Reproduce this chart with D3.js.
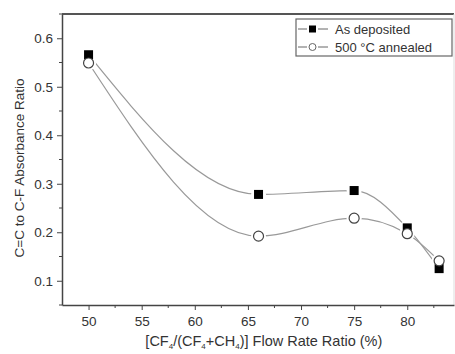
<!DOCTYPE html>
<html>
<head>
<meta charset="utf-8">
<script src="https://cdn.jsdelivr.net/npm/d3@7"></script>
<style>
  body { margin: 0; background: #fff; }
  text { font-family: "Liberation Sans", Arial, sans-serif; fill: #333; }
</style>
</head>
<body>
<div id="chart"></div>
<script>
// data
var flowRatio = [50, 66, 75, 80, 83];
var asDeposited = [0.566, 0.278, 0.286, 0.209, 0.125];
var annealed = [0.549, 0.192, 0.229, 0.197, 0.141];
var seriesNames = ["As deposited", "500 \u00B0C annealed"];
var xTicks = [50, 55, 60, 65, 70, 75, 80];
var yTicks = [0.1, 0.2, 0.3, 0.4, 0.5, 0.6];

var svgWidth = 455, svgHeight = 354;
var margin = { left: 62, top: 14, right: 1, bottom: 49 };
var width = svgWidth - margin.left - margin.right,
    height = svgHeight - margin.top - margin.bottom;

var svg = d3.select("#chart").append("svg")
    .attr("width", svgWidth)
    .attr("height", svgHeight);

var grp = svg.append("g")
    .attr("transform", "translate(" + [margin.left, margin.top] + ")");

var x = d3.scaleLinear().domain([47.5, 84.4]).range([0, width]);
var y = d3.scaleLinear().domain([0.05, 0.65]).range([height, 0]);

// frame: top dark, right faint
grp.append("line").attr("x1", 0).attr("x2", width).attr("y1", 0).attr("y2", 0)
    .style("stroke", "#555").style("stroke-width", 2);
grp.append("line").attr("x1", width).attr("x2", width).attr("y1", 0).attr("y2", height)
    .style("stroke", "#ddd").style("stroke-width", 1);

// minor ticks
var xMinor = d3.range(52.5, 84, 5);
var yMinor = d3.range(0.05, 0.66, 0.1);

var xAxis = grp.append("g").attr("transform", "translate(0," + height + ")")
    .call(d3.axisBottom(x).tickValues(xTicks).tickSize(5).tickPadding(6).tickSizeOuter(0));
var yAxis = grp.append("g")
    .call(d3.axisLeft(y).tickValues(yTicks).tickSize(5).tickPadding(4).tickSizeOuter(0)
        .tickFormat(d3.format(".1f")));

grp.selectAll(".xminor").data(xMinor).enter().append("line")
    .attr("x1", d => x(d)).attr("x2", d => x(d))
    .attr("y1", height).attr("y2", height + 3)
    .style("stroke", "#444");
grp.selectAll(".yminor").data(yMinor).enter().append("line")
    .attr("x1", 0).attr("x2", -3)
    .attr("y1", d => y(d)).attr("y2", d => y(d))
    .style("stroke", "#444");

[xAxis, yAxis].forEach(function (ax) {
    ax.select(".domain").style("stroke", "#444").style("stroke-width", 1.5);
    ax.selectAll(".tick line").style("stroke", "#444");
    ax.selectAll("text").style("font-size", "13.5px").style("fill", "#333")
        .style("font-family", "'Liberation Sans', Arial, sans-serif");
});

// smooth connecting lines
var lineGen = d3.line()
    .x(d => x(d[0])).y(d => y(d[1]))
    .curve(d3.curveMonotoneX);

var series = [
    flowRatio.map((f, i) => [f, asDeposited[i]]),
    flowRatio.map((f, i) => [f, annealed[i]])
];

grp.selectAll(".curve").data(series).enter().append("path")
    .attr("d", lineGen)
    .style("fill", "none")
    .style("stroke", "#999")
    .style("stroke-width", 1.2);

// white halos so the lines stop short of the markers
grp.selectAll(".halo").data(series[0].concat(series[1])).enter().append("circle")
    .attr("cx", d => x(d[0])).attr("cy", d => y(d[1]))
    .attr("r", 7.5)
    .style("fill", "#fff");

// markers
grp.selectAll(".sq").data(series[0]).enter().append("rect")
    .attr("x", d => x(d[0]) - 4.5).attr("y", d => y(d[1]) - 4.5)
    .attr("width", 9).attr("height", 9)
    .style("fill", "#000");

grp.selectAll(".circ").data(series[1]).enter().append("circle")
    .attr("cx", d => x(d[0])).attr("cy", d => y(d[1]))
    .attr("r", 5)
    .style("fill", "#fff")
    .style("stroke", "#444")
    .style("stroke-width", 1.2);

// legend
var legend = svg.append("g").attr("transform", "translate(296,19)");
legend.append("rect").attr("width", 156).attr("height", 37)
    .style("fill", "#fff").style("stroke", "#666").style("stroke-width", 1.2);
seriesNames.forEach(function (name, i) {
    var ly = 10 + i * 18;
    legend.append("line").attr("x1", 2).attr("x2", 32).attr("y1", ly).attr("y2", ly)
        .style("stroke", "#666");
    legend.append("rect").attr("x", 11).attr("y", ly - 5).attr("width", 11).attr("height", 10)
        .style("fill", "#fff");
    if (i === 0) {
        legend.append("rect").attr("x", 13).attr("y", ly - 3.5).attr("width", 7).attr("height", 7)
            .style("fill", "#000");
    } else {
        legend.append("circle").attr("cx", 16.5).attr("cy", ly).attr("r", 3.5)
            .style("fill", "#fff").style("stroke", "#666");
    }
    legend.append("text").attr("x", 39).attr("y", ly + 5)
        .style("font-size", "13px")
        .text(name);
});

// axis titles
var xTitle = svg.append("text")
    .attr("x", margin.left + x(66.5)).attr("y", 346)
    .attr("text-anchor", "middle")
    .style("font-size", "14.5px");
xTitle.append("tspan").text("[CF");
xTitle.append("tspan").attr("dy", 3).style("font-size", "8px").text("4");
xTitle.append("tspan").attr("dy", -3).text("/(CF");
xTitle.append("tspan").attr("dy", 3).style("font-size", "8px").text("4");
xTitle.append("tspan").attr("dy", -3).text("+CH");
xTitle.append("tspan").attr("dy", 3).style("font-size", "8px").text("4");
xTitle.append("tspan").attr("dy", -3).text(")] Flow Rate Ratio (%)");

svg.append("text")
    .attr("transform", "translate(23.5,168) rotate(-90)")
    .attr("text-anchor", "middle")
    .style("font-size", "13.5px")
    .text("C=C to C-F Absorbance Ratio");
</script>
</body>
</html>
